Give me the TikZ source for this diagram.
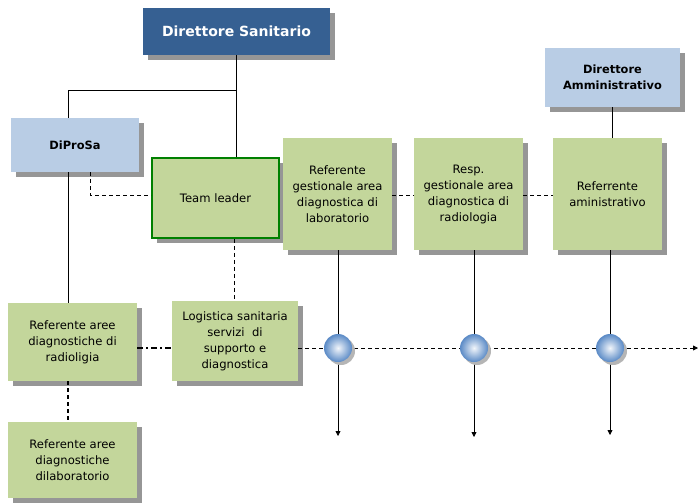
\documentclass[tikz,border=0pt]{standalone}
\usepackage{fontspec}
\setmainfont{DejaVu Sans}
\usetikzlibrary{shadows,arrows.meta}
\definecolor{dsblue}{HTML}{366092}
\definecolor{lightblue}{HTML}{B9CDE5}
\definecolor{boxgreen}{HTML}{C3D69B}
\definecolor{tlgreen}{HTML}{008000}
\definecolor{shadowgray}{HTML}{969696}
\definecolor{ballblue}{HTML}{5A8AC6}
\begin{document}
\begin{tikzpicture}[x=1pt,y=-1pt,
    box/.style={inner sep=2pt,align=center,font=\fontsize{11.6}{16}\selectfont,
      drop shadow={shadow xshift=5pt,shadow yshift=-5pt,fill=shadowgray,opacity=1}},
    greenbox/.style={box,fill=boxgreen},
    bluebox/.style={box,fill=lightblue,font=\fontsize{11.4}{16}\selectfont\bfseries},
    ball/.style={circle,minimum size=28pt,inner sep=0pt,shading=radial,
      inner color=white!92!ballblue,outer color=ballblue,
      drop shadow={shadow xshift=3pt,shadow yshift=-3pt,fill=shadowgray!70,opacity=1}},
    link/.style={line width=0.8pt},
    dlink/.style={line width=0.8pt,dash pattern=on 4pt off 3pt},
    tip/.style={-{Triangle[length=5pt,width=5pt]}}]
  \useasboundingbox (0,0) rectangle (699,503);
  % top level
  \node[box,fill=dsblue,text=white,minimum width=187pt,minimum height=47pt,
    font=\fontsize{14}{16}\selectfont\bfseries] (ds) at (236.5,31.5) {Direttore Sanitario};
  \node[bluebox,minimum width=135pt,minimum height=59pt] (da) at (612.5,77.5) {Direttore\\Amministrativo};
  \node[bluebox,minimum width=128pt,minimum height=54pt] (dp) at (75,145) {DiProSa};
  % second row
  \node[greenbox,draw=tlgreen,line width=1.6pt,minimum width=127pt,minimum height=80pt] (tl) at (215.5,198) {Team leader};
  \node[greenbox,minimum width=109pt,minimum height=112pt] (lab) at (337.5,194) {Referente\\gestionale area\\diagnostica di\\laboratorio};
  \node[greenbox,minimum width=109pt,minimum height=112pt] (resp) at (468.5,194) {Resp.\\gestionale area\\diagnostica di\\radiologia};
  \node[greenbox,minimum width=109pt,minimum height=112pt] (ref) at (607.5,194) {Referrente\\aministrativo};
  % lower boxes
  \node[greenbox,minimum width=129pt,minimum height=78pt] (rad) at (72.5,342) {Referente aree\\diagnostiche di\\radioligia};
  \node[greenbox,minimum width=129pt,minimum height=76pt] (rlab) at (72.5,460) {Referente aree\\diagnostiche\\dilaboratorio};
  \node[greenbox,minimum width=126pt,minimum height=80pt] (log) at (235,341) {Logistica sanitaria\\servizi~ di\\supporto e\\diagnostica};
  % solid links
  \coordinate (j1) at (236,90);
  \coordinate (j2) at (68,90);
  \draw[link] (ds.south) -- (ds.south |- tl.north);
  \draw[link] (j1) -- (j2) -- (j2 |- dp.north);
  \draw[link] (j2 |- dp.south) -- (j2 |- rad.north);
  \draw[link] (da.south -| 612,0) -- (ref.north -| 612,0);
  % dashed links
  \coordinate (j3) at (90,195);
  \draw[dlink] (j3 |- dp.south) -- (j3) -- (j3 -| tl.west);
  \draw[dlink] (lab.east |- 0,195) -- (resp.west |- 0,195);
  \draw[dlink] (resp.east |- 0,195) -- (ref.west |- 0,195);
  \draw[dlink] (tl.south -| 234,0) -- (log.north -| 234,0);
  \draw[line width=1.4pt,dash pattern=on 4pt off 3pt] (j2 |- rad.south) -- (j2 |- rlab.north);
  \draw[line width=1.2pt,dash pattern=on 6pt off 3pt on 2pt off 3pt] (rad.east |- 0,348) -- (log.west |- 0,348);
  % baseline with the three nodes
  \coordinate (k1) at (338,348);
  \coordinate (k2) at (474,348);
  \coordinate (k3) at (610,348);
  \coordinate (e0) at (698,348);
  \coordinate (e1) at (338,436);
  \coordinate (e2) at (474,437);
  \coordinate (e3) at (610,435);
  \draw[dlink,tip] (log.east |- 0,348) -- (e0);
  \draw[link,tip] (lab.south -| k1) -- (e1);
  \draw[link,tip] (resp.south -| k2) -- (e2);
  \draw[link,tip] (ref.south -| k3) -- (e3);
  \node[ball] (b1) at (k1) {};
  \node[ball] (b2) at (k2) {};
  \node[ball] (b3) at (k3) {};
\end{tikzpicture}
\end{document}
